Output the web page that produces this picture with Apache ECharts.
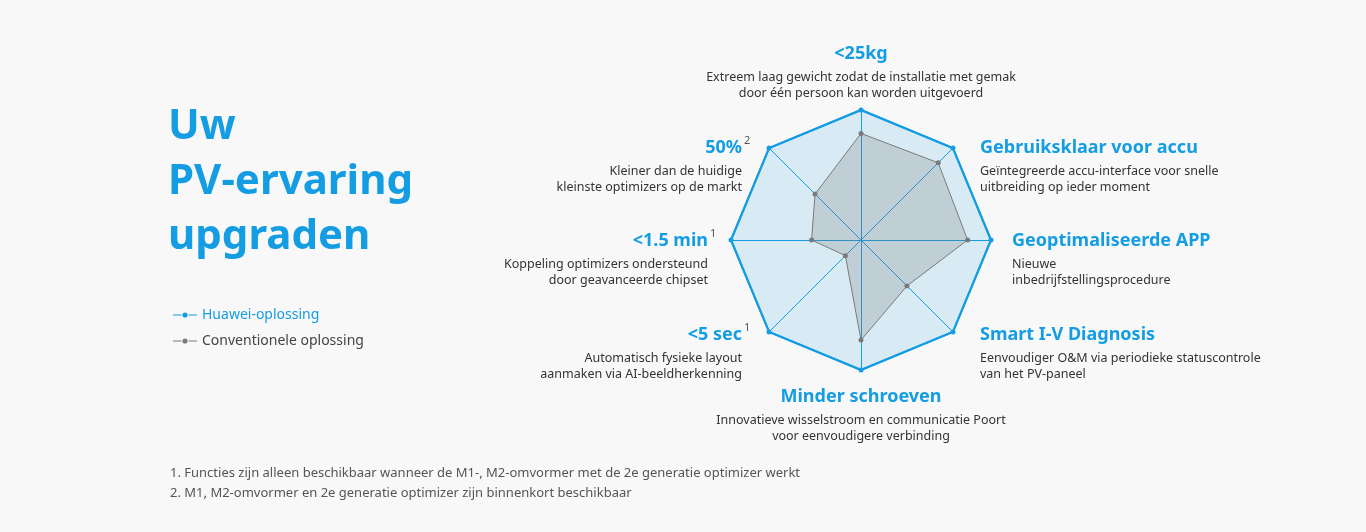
<!DOCTYPE html><html><head><meta charset="utf-8">
<script src="https://cdn.jsdelivr.net/npm/echarts@6/dist/echarts.min.js"></script>
<style>html,body{margin:0;background:#f8f8f8}#c{width:1366px;height:532px}</style></head><body><div id="c"></div>
<script>
const indicators = ['<25kg','50%','<1.5 min','<5 sec','Minder schroeven','Smart I-V Diagnosis','Geoptimaliseerde APP','Gebruiksklaar voor accu'];
const huawei = [1,1,1,1,1,1,1,1];
const conventional = [0.82,0.5,0.38,0.17,0.77,0.5,0.82,0.84];
const seriesNames = ['Huawei-oplossing','Conventionele oplossing'];
const descs = [
 ['Extreem laag gewicht zodat de installatie met gemak','door één persoon kan worden uitgevoerd'],
 ['Kleiner dan de huidige','kleinste optimizers op de markt'],
 ['Koppeling optimizers ondersteund','door geavanceerde chipset'],
 ['Automatisch fysieke layout','aanmaken via AI-beeldherkenning'],
 ['Innovatieve wisselstroom en communicatie Poort','voor eenvoudigere verbinding'],
 ['Eenvoudiger O&M via periodieke statuscontrole','van het PV-paneel'],
 ['Nieuwe','inbedrijfstellingsprocedure'],
 ['Geïntegreerde accu-interface voor snelle','uitbreiding op ieder moment']
];
const sups = ['','2','1','1','','','',''];
const footnotes = ['1. Functies zijn alleen beschikbaar wanneer de M1-, M2-omvormer met de 2e generatie optimizer werkt','2. M1, M2-omvormer en 2e generatie optimizer zijn binnenkort beschikbaar'];
const BLUE='#149de3', GRAY='#7a7a7a', F='"Noto Sans", sans-serif';
const pos = [[861,54,'center'],[742,148,'right'],[708,241,'right'],[742,335,'right'],[861,397,'center'],[980,335,'left'],[1012,241,'left'],[980,148,'left']];
const g = [];
g.push({type:'text',left:168,top:100,style:{text:'Uw\nPV-ervaring\nupgraden',fill:BLUE,font:'bold 42px '+F,lineHeight:55}});
indicators.forEach((t,i)=>{
  const [x,y,a]=pos[i];
  g.push({type:'text',x:x,y:y,style:{text:t,fill:BLUE,font:'bold 18px '+F,align:a,verticalAlign:'middle'}});
  if(sups[i]) g.push({type:'text',x:x+2,y:y-7,style:{text:sups[i],fill:'#555',font:'11px '+F,align:'left',verticalAlign:'middle'}});
  descs[i].forEach((d,j)=>g.push({type:'text',x:x,y:y+23+j*16,style:{text:d,fill:'#333',font:'12.5px '+F,align:a,verticalAlign:'middle'}}));
});
footnotes.forEach((f,j)=>g.push({type:'text',x:170,y:473+j*20,style:{text:f,fill:'#555',font:'13px '+F,verticalAlign:'middle'}}));
const chart=echarts.init(document.getElementById('c'));
chart.setOption({
  animation:false,
  legend:{orient:'vertical',left:168,top:303,itemGap:12,itemWidth:24,itemHeight:7,
    icon:'path://M0,3L10,3L10,4L0,4Z M14,0.5A3,3 0 1 1 14,6.5A3,3 0 1 1 14,0.5Z M18,3L28,3L28,4L18,4Z',
    data:[{name:seriesNames[0],textStyle:{color:BLUE}},{name:seriesNames[1],textStyle:{color:'#444'}}],
    textStyle:{fontSize:14,fontFamily:F}},
  radar:{center:[861,240],radius:130,startAngle:90,splitNumber:1,shape:'polygon',
    indicator:indicators.map(n=>({name:n,max:1,min:0})),
    axisName:{show:false},
    axisLine:{lineStyle:{color:BLUE,width:1}},
    splitLine:{lineStyle:{color:BLUE,width:2}},
    splitArea:{show:false}},
  series:[{type:'radar',symbol:'circle',symbolSize:5,data:[
    {name:seriesNames[0],value:huawei,itemStyle:{color:BLUE},lineStyle:{color:BLUE,width:2},areaStyle:{color:'rgba(20,157,227,0.2)'}},
    {name:seriesNames[1],value:conventional,itemStyle:{color:GRAY},lineStyle:{color:GRAY,width:1},areaStyle:{color:'rgba(120,120,120,0.35)'}}]}],
  graphic:g
});
</script></body></html>
